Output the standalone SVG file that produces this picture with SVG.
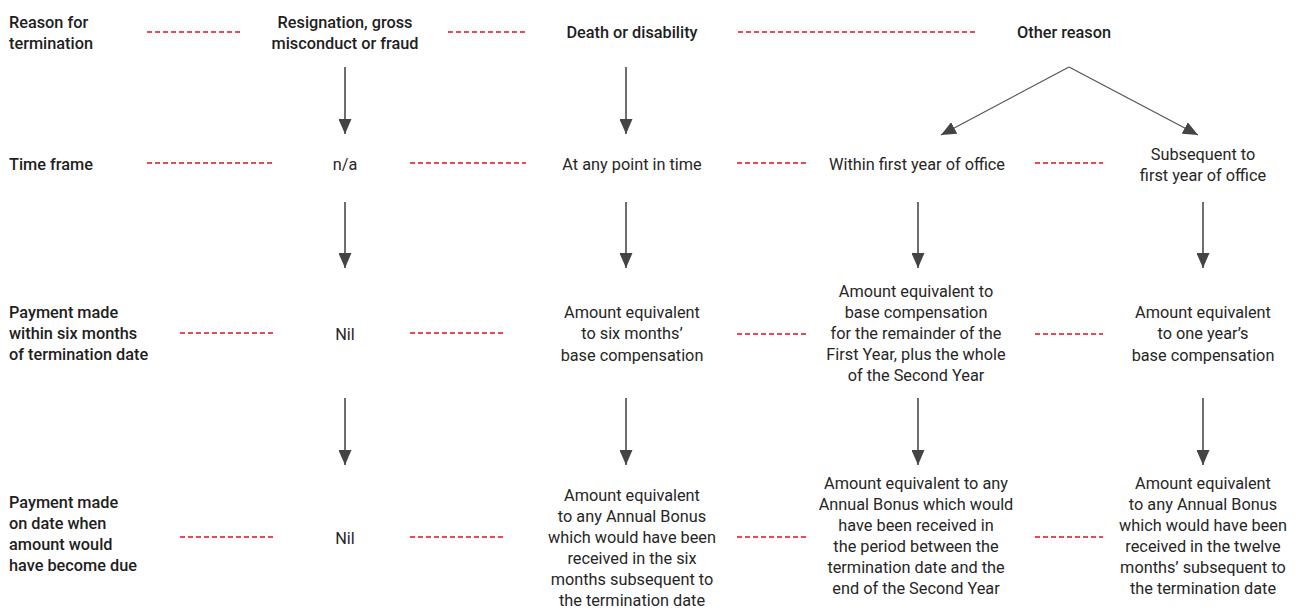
<svg xmlns="http://www.w3.org/2000/svg" width="1298" height="610" viewBox="0 0 1298 610">
<style>
text{font-family:Roboto,"Liberation Sans",Arial,sans-serif;font-size:16.3px;fill:#1e1e1e}
.h{font-weight:500}
.b{font-weight:400;fill:#262626}
.c{text-anchor:middle}
.d{stroke:#e3111b;stroke-width:1.4;stroke-dasharray:5 3;fill:none}
.a{stroke:#4a4a4a;stroke-width:1.6;fill:none;marker-end:url(#ah)}
.g{stroke:#555;stroke-width:1.2;fill:none;marker-end:url(#ah)}
</style>
<defs>
<marker id="ah" markerUnits="userSpaceOnUse" markerWidth="16" markerHeight="13" refX="15" refY="6.5" orient="auto">
<path d="M0,0 L15,6.5 L0,13 z" fill="#444"/>
</marker>
</defs>
<rect width="1298" height="610" fill="#fff"/>
<g id="connectors">
<line class="d" x1="147" y1="32" x2="241" y2="32"/>
<line class="d" x1="448" y1="32" x2="526" y2="32"/>
<line class="d" x1="738" y1="32" x2="975" y2="32"/>
<line class="d" x1="147" y1="163" x2="273" y2="163"/>
<line class="d" x1="410" y1="163" x2="526" y2="163"/>
<line class="d" x1="737" y1="163" x2="806" y2="163"/>
<line class="d" x1="1035" y1="163" x2="1103" y2="163"/>
<line class="d" x1="180" y1="333" x2="273" y2="333"/>
<line class="d" x1="410" y1="333" x2="505" y2="333"/>
<line class="d" x1="737" y1="334" x2="806" y2="334"/>
<line class="d" x1="1035" y1="334" x2="1103" y2="334"/>
<line class="d" x1="180" y1="537" x2="273" y2="537"/>
<line class="d" x1="410" y1="537" x2="505" y2="537"/>
<line class="d" x1="737" y1="537" x2="806" y2="537"/>
<line class="d" x1="1035" y1="537" x2="1103" y2="537"/>
<line class="a" x1="345" y1="67" x2="345" y2="134"/>
<line class="a" x1="626" y1="67" x2="626" y2="134"/>
<line class="g" x1="1069" y1="67" x2="941" y2="135"/>
<line class="g" x1="1069" y1="67" x2="1198" y2="135"/>
<line class="a" x1="345" y1="202" x2="345" y2="268"/>
<line class="a" x1="626" y1="202" x2="626" y2="268"/>
<line class="a" x1="918" y1="202" x2="918" y2="268"/>
<line class="a" x1="1203" y1="202" x2="1203" y2="268"/>
<line class="a" x1="345" y1="398" x2="345" y2="465"/>
<line class="a" x1="626" y1="398" x2="626" y2="465"/>
<line class="a" x1="918" y1="398" x2="918" y2="465"/>
<line class="a" x1="1203" y1="398" x2="1203" y2="465"/>
</g>
<g id="label-reason"><text class="h" x="9" y="28">Reason for</text><text class="h" x="9" y="49">termination</text></g>
<g id="label-time"><text class="h" x="9" y="170">Time frame</text></g>
<g id="label-pay6"><text class="h" x="9" y="318">Payment made</text><text class="h" x="9" y="339">within six months</text><text class="h" x="9" y="360">of termination date</text></g>
<g id="label-paydue"><text class="h" x="9" y="508">Payment made</text><text class="h" x="9" y="529">on date when</text><text class="h" x="9" y="550">amount would</text><text class="h" x="9" y="571">have become due</text></g>
<g id="reason-resign"><text class="h c" x="345" y="28">Resignation, gross</text><text class="h c" x="345" y="49">misconduct or fraud</text></g>
<g id="reason-death"><text class="h c" x="632" y="38">Death or disability</text></g>
<g id="reason-other"><text class="h c" x="1064" y="38">Other reason</text></g>
<g id="time-na"><text class="b c" x="345" y="170">n/a</text></g>
<g id="time-any"><text class="b c" x="632" y="170">At any point in time</text></g>
<g id="time-first"><text class="b c" x="917" y="170">Within first year of office</text></g>
<g id="time-subsequent"><text class="b c" x="1203" y="160">Subsequent to</text><text class="b c" x="1203" y="181">first year of office</text></g>
<g id="pay6-nil"><text class="b c" x="345" y="340">Nil</text></g>
<g id="pay6-death"><text class="b c" x="632" y="318">Amount equivalent</text><text class="b c" x="632" y="339">to six months’</text><text class="b c" x="632" y="361">base compensation</text></g>
<g id="pay6-first"><text class="b c" x="916" y="297">Amount equivalent to</text><text class="b c" x="916" y="318">base compensation</text><text class="b c" x="916" y="339">for the remainder of the</text><text class="b c" x="916" y="360">First Year, plus the whole</text><text class="b c" x="916" y="381">of the Second Year</text></g>
<g id="pay6-subsequent"><text class="b c" x="1203" y="318">Amount equivalent</text><text class="b c" x="1203" y="339">to one year’s</text><text class="b c" x="1203" y="361">base compensation</text></g>
<g id="paydue-nil"><text class="b c" x="345" y="544">Nil</text></g>
<g id="paydue-death"><text class="b c" x="632" y="501">Amount equivalent</text><text class="b c" x="632" y="522">to any Annual Bonus</text><text class="b c" x="632" y="543">which would have been</text><text class="b c" x="632" y="564">received in the six</text><text class="b c" x="632" y="585">months subsequent to</text><text class="b c" x="632" y="606">the termination date</text></g>
<g id="paydue-first"><text class="b c" x="916" y="489">Amount equivalent to any</text><text class="b c" x="916" y="510">Annual Bonus which would</text><text class="b c" x="916" y="531">have been received in</text><text class="b c" x="916" y="552">the period between the</text><text class="b c" x="916" y="573">termination date and the</text><text class="b c" x="916" y="594">end of the Second Year</text></g>
<g id="paydue-subsequent"><text class="b c" x="1203" y="489">Amount equivalent</text><text class="b c" x="1203" y="510">to any Annual Bonus</text><text class="b c" x="1203" y="531">which would have been</text><text class="b c" x="1203" y="552">received in the twelve</text><text class="b c" x="1203" y="573">months’ subsequent to</text><text class="b c" x="1203" y="594">the termination date</text></g>
</svg>
